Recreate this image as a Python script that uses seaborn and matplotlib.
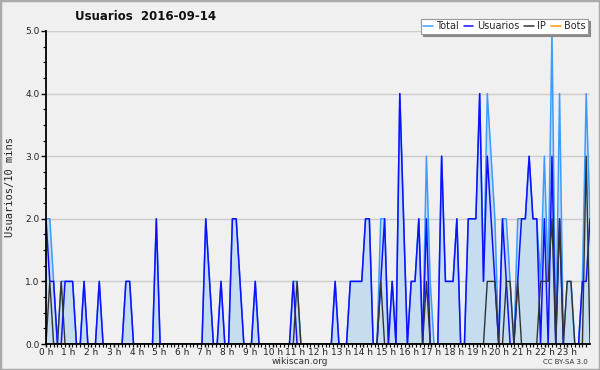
import numpy as np
import pandas as pd
import matplotlib
matplotlib.use("Agg")
import matplotlib.pyplot as plt
from matplotlib.lines import Line2D
from matplotlib.patches import Rectangle
import seaborn as sns

# ---- data (one value per 10-minute slot, 144 slots) ----
usuarios = [2,1,1,0,0,1,1,1,0,0, 1,0,0,0,1,0,0,0,0,0,
            0,1,1,0,0,0,0,0,0,2, 0,0,0,0,0,0,0,0,0,0,
            0,0,2,1,0,0,1,0,0,2, 2,1,0,0,0,1,0,0,0,0,
            0,0,0,0,0,1,0,0,0,0, 0,0,0,0,0,0,1,0,0,0,
            1,1,1,1,2,2,0,0,1,2, 0,1,0,4,2,0,1,1,2,0,
            2,0,0,0,3,1,1,1,2,0, 0,2,2,2,4,1,3,2,1,0,
            2,1,0,0,1,2,2,3,2,2, 0,2,0,3,0,2,0,0,0,0,
            0,1,1,2]
ip = [0,1,0,0,1,0,0,0,0,0, 0,0,0,0,0,0,0,0,0,0,
      0,0,0,0,0,0,0,0,0,0, 0,0,0,0,0,0,0,0,0,0,
      0,0,0,0,0,0,0,0,0,0, 0,0,0,0,0,0,0,0,0,0,
      0,0,0,0,0,0,1,0,0,0, 0,0,0,0,0,0,0,0,0,0,
      0,0,0,0,0,0,0,0,1,0, 0,0,0,0,0,0,0,0,0,0,
      1,0,0,0,0,0,0,0,0,0, 0,0,0,0,0,0,1,1,1,0,
      0,1,1,0,1,0,0,0,0,0, 1,1,1,2,0,2,0,1,1,0,
      0,0,3,0]
total = [2,2,1,0,1,1,1,1,0,0, 1,0,0,0,1,0,0,0,0,0,
         0,1,1,0,0,0,0,0,0,2, 0,0,0,0,0,0,0,0,0,0,
         0,0,2,1,0,0,1,0,0,2, 2,1,0,0,0,1,0,0,0,0,
         0,0,0,0,0,1,1,0,0,0, 0,0,0,0,0,0,1,0,0,0,
         1,1,1,1,2,2,0,0,2,2, 0,1,0,4,2,0,1,1,2,0,
         3,1,0,0,3,1,1,1,2,0, 0,2,2,2,4,1,4,3,2,0,
         2,2,1,0,2,2,2,3,2,2, 1,3,1,5,0,4,0,1,1,0,
         0,1,4,2]
bots = [0] * 144
hour_labels = [f"{h} h" for h in range(24)]
y_labels = ["0.0", "1.0", "2.0", "3.0", "4.0", "5.0"]

n = len(total)
df = pd.DataFrame({
    "h": np.arange(n) * 24.0 / (n - 1),
    "Total": total, "Usuarios": usuarios, "IP": ip, "Bots": bots,
})

sns.set_style("white")
plt.rcParams["font.family"] = ["DejaVu Sans"]

BG = "#f0f0f0"
fig = plt.figure(figsize=(6, 3.7), dpi=100, facecolor=BG)
ax = fig.add_axes([46/600, 26/370, 544/600, 313/370])
ax.set_facecolor(BG)

c_total, c_user, c_ip, c_bots = "#3d9bff", "#1010ff", "#333333", "#ff9900"

ax.fill_between(df["h"], 0, df["Total"], color="#c6ddf0", lw=0, zorder=1)
sns.lineplot(data=df, x="h", y="Bots", color=c_bots, lw=1.0, ax=ax, zorder=0.5, legend=False)
sns.lineplot(data=df, x="h", y="Total", color=c_total, lw=1.1, ax=ax, zorder=3, legend=False)
sns.lineplot(data=df, x="h", y="Usuarios", color=c_user, lw=1.1, ax=ax, zorder=4, legend=False)
sns.lineplot(data=df, x="h", y="IP", color=c_ip, lw=1.0, ax=ax, zorder=5, legend=False)

ax.set_xlim(0, 24)
ax.set_ylim(0, 5)
ax.set_xlabel("")
ax.set_ylabel("")

ax.set_yticks(range(6))
ax.set_yticklabels(y_labels)
ax.set_yticks(np.arange(0, 5.01, 0.25), minor=True)
ax.set_xticks(range(24))
ax.set_xticklabels(hour_labels)
ax.set_xticks(np.arange(0, 24, 1/6), minor=True)

ax.grid(False)
for v in range(1, 6):
    ax.axhline(v, color="#cccccc", lw=1.0, zorder=0.8)

for s in ["top", "right"]:
    ax.spines[s].set_visible(False)
for s in ["left", "bottom"]:
    ax.spines[s].set_color("black")
    ax.spines[s].set_linewidth(1.3)
    ax.spines[s].set_zorder(6)

ax.tick_params(axis="y", which="major", direction="out", length=3.5, width=1,
               color="black", labelsize=6.5, labelcolor="#222222", pad=1)
ax.tick_params(axis="y", which="minor", direction="out", length=2.5, width=0.8,
               color="black")
ax.tick_params(axis="x", which="major", direction="out", length=2.5, width=1,
               color="black", labelsize=6.5, labelcolor="#222222", pad=0.3)
ax.tick_params(axis="x", which="minor", direction="out", length=2, width=0.8,
               color="black")
ax.tick_params(axis="x", which="both", bottom=True)
ax.tick_params(axis="y", which="both", left=True)

fig.text(10/600, 1 - 187/370, "Usuarios/10 mins", rotation=90, ha="center", va="center",
         fontsize=7.5, family="DejaVu Sans Mono", color="#222222")
fig.text(75/600, 1 - 17/370, "Usuarios  2016-09-14", ha="left", va="center",
         fontsize=8.5, fontweight="bold", color="#111111")
fig.text(300/600, 1 - 362/370, "wikiscan.org", ha="center", va="center",
         fontsize=6.5, color="#333333")
fig.text(588/600, 1 - 362.5/370, "CC BY-SA 3.0", ha="right", va="center",
         fontsize=5, color="#333333")

handles = [Line2D([], [], color=c_total, lw=1.1),
           Line2D([], [], color=c_user, lw=1.1),
           Line2D([], [], color=c_ip, lw=1.1),
           Line2D([], [], color=c_bots, lw=1.1)]
leg = fig.legend(handles, ["Total", "Usuarios", "IP", "Bots"], ncol=4,
                 loc="upper right", bbox_to_anchor=(588/600, 1 - 19/370),
                 fontsize=7, frameon=True, fancybox=False,
                 shadow={"color": "#888888", "alpha": 1.0, "ox": 1.5, "oy": -1.5},
                 handlelength=1.0, handletextpad=0.35, columnspacing=0.5,
                 borderpad=0.25, borderaxespad=0)
leg.get_frame().set_facecolor("white")
leg.get_frame().set_edgecolor("#999999")
leg.get_frame().set_linewidth(0.8)

fig.patches.append(Rectangle((0, 0), 1, 1, transform=fig.transFigure, fill=False,
                             edgecolor="#aaaaaa", lw=2.5))

fig.savefig("out.png", dpi=100, facecolor=BG)
